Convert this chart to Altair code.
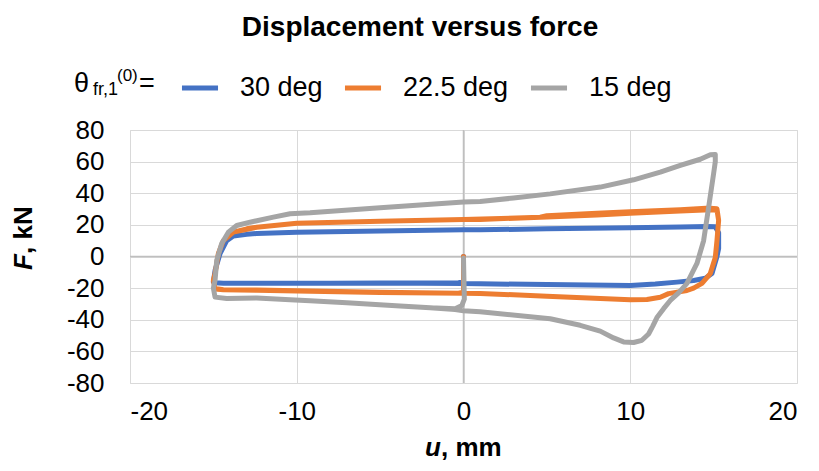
import altair as alt
import pandas as pd

# ---------------- data ----------------
series_names = ["30 deg", "22.5 deg", "15 deg"]
series_colors = ["#4472C4", "#ED7D31", "#A5A5A5"]
series_widths = [5, 5, 6]

blue_u = [0, 0, -0.3, -2, -5, -8, -10, -12.4, -14.4, -14.9, -15.0, -14.9, -14.6, -14.2,
          -13.8, -13.0, -12.4, -10, -5, 0, 1, 5, 10, 13, 14.6, 15.1, 15.3, 15.3, 15.2,
          14.9, 14.5, 13.8, 12.8, 11.5, 10, 5, 1, 0, -5, -10, -12.4, -14.4, -14.9, -15.0]
blue_f = [0, -15.5, -16.6, -16.8, -16.8, -16.9, -16.9, -16.9, -16.9, -16.6, -16.0, -8.9, 1.9, 10,
          13.0, 14.0, 14.6, 15.4, 16.2, 16.9, 16.9, 17.5, 18.2, 18.7, 19.0, 18.8, 15, 5, 0,
          -10.8, -13.8, -15.2, -16.2, -17.4, -18.3, -17.7, -17.3, -17.0, -16.8, -16.9, -16.9, -16.9, -16.6, -16.0]

orange_u = [0, 0, -0.3, -5, -10, -12.4, -14.4, -14.9, -15.0, -14.9, -14.7, -14.4, -13.8, -13.0,
            -12.4, -10, -5, 0, 1, 5, 8, 10, 13, 14.8, 15.2, 15.3, 15.2, 15.1, 14.8, 14.3, 13.8,
            13.4, 12.3, 11.8, 11, 10, 5, 1, 0, -5, -10, -12.4, -14.4, -14.9, -15.0, -14.9, -14.7,
            -14.4, -13.8, -12.4, -10, -5, 0, 4.6, 5, 8, 10, 13, 14.8, 15.2, 15.3, 15.2, 15.1,
            14.8, 14.3, 13.8, 13.4, 12.3, 11.8, 11, 10]
orange_f = [0, -22.5, -23.2, -22.6, -21.6, -21.2, -21.0, -20.3, -15, -10.8, 1.9, 10, 15.4, 17.5,
            18.5, 21, 22.3, 23.4, 23.4, 25.0, 26.3, 27.3, 28.7, 29.6, 29.3, 22.8, 10, -0.6, -10.8, -17, -20,
            -21.5, -23.5, -25.8, -27.2, -27.3, -25.1, -23.4, -23.3, -22.8, -21.8, -21.3, -21.1, -20.5, -15, -10.8, 1.9,
            10, 15.4, 18.5, 21, 22.3, 23.4, 24.8, 25.8, 27.4, 28.3, 29.6, 30.6, 30.2, 23, 10, -0.6,
            -10.8, -17, -20, -21.5, -23.5, -25.8, -27.2, -27.4]

gray_u = [0, 0.05, -0.1, -0.5, -2, -3.8, -7, -9.2, -10.4, -12.4, -14.2, -14.9, -15.0, -14.9,
          -14.8, -14.5, -14.1, -13.6, -12.8, -11.4, -10.4, -9.2, -5, 0, 1, 3, 5.2, 8.2, 10.2,
          11.8, 13, 14.2, 14.8, 15.1, 15.1, 15.0, 14.7, 14.4, 14.0, 13.4, 12.9, 12.4, 12.0, 11.6,
          11.35, 11.1, 10.7, 10.2, 9.6, 9.0, 8.2, 7, 5.2, 1, 0, -0.5, -2, -3.8, -7, -9.2, -10.4,
          -12.4, -14.2, -14.9, -15.0]
gray_f = [-1, -27, -31, -33.0, -32.4, -31.3, -29.3, -28.0, -27.4, -26.3, -26.5, -25.7, -20, -15.2,
          -2.5, 8.2, 15.4, 19.6, 21.7, 24.9, 27.0, 27.6, 30.8, 34.4, 34.8, 37, 39.6, 43.9, 48.5,
          53.4, 57.6, 61.5, 64.3, 64.5, 60, 52.5, 31, 10, -4.4, -17, -23, -27.8, -33, -38.6,
          -44, -49, -53.0, -54.4, -54.0, -51.5, -47.2, -43.5, -39.4, -35.0, -34.3, -33.5, -32.4, -31.3, -29.3, -28.0, -27.4,
          -26.3, -26.5, -25.7, -20]

x_ticks = [-20, -10, 0, 10, 20]
y_ticks = [-80, -60, -40, -20, 0, 20, 40, 60, 80]

chart_title = "Displacement versus force"

# ---------------- build table ----------------
rows = []
for name, us, fs in zip(series_names, [blue_u, orange_u, gray_u], [blue_f, orange_f, gray_f]):
    for i, (u, f) in enumerate(zip(us, fs)):
        rows.append({"u": u, "F": f, "series": name, "idx": i})
df = pd.DataFrame(rows)
zero_df = pd.DataFrame({"u": [0], "F": [0]})

FONT = "Liberation Sans"
W, H = 667, 253

xscale = alt.Scale(domain=[-20, 20], nice=False, zero=False)
yscale = alt.Scale(domain=[-80, 80], nice=False, zero=False)

x_axis = alt.Axis(values=x_ticks, grid=True, gridColor="#d9d9d9", gridWidth=1,
                  domain=False, ticks=False, tickSize=0, labelFontSize=26, labelOverlap=False,
                  labelFont=FONT, labelColor="#000000", labelPadding=15, title=None,
                  labelExpr="'' + datum.value")
y_axis = alt.Axis(values=y_ticks, grid=True, gridColor="#d9d9d9", gridWidth=1,
                  domain=False, ticks=False, tickSize=0, labelFontSize=26, labelOverlap=False,
                  labelFont=FONT, labelColor="#000000", labelPadding=26, title=None,
                  labelExpr="'' + datum.value")


def X():
    return alt.X("u:Q", scale=xscale, axis=x_axis)


def Y():
    return alt.Y("F:Q", scale=yscale, axis=y_axis)


zero_v = alt.Chart(zero_df).mark_rule(color="#bfbfbf", strokeWidth=1.5).encode(x=X())
zero_h = alt.Chart(zero_df).mark_rule(color="#bfbfbf", strokeWidth=1.5).encode(y=Y())

lines = alt.Chart(df).mark_line(strokeJoin="round", strokeCap="round").encode(
    x=X(),
    y=Y(),
    color=alt.Color("series:N",
                    scale=alt.Scale(domain=series_names, range=series_colors),
                    sort=series_names,
                    legend=alt.Legend(orient="none", legendX=49, legendY=-63, direction="horizontal",
                                      title=None, labelFontSize=27, labelFont=FONT, labelColor="#000000",
                                      symbolType="stroke", symbolSize=1300, symbolStrokeWidth=4,
                                      labelOffset=19, columnPadding=11, padding=0, gridAlign="none")),
    strokeWidth=alt.StrokeWidth("series:N",
                                scale=alt.Scale(domain=series_names, range=series_widths),
                                legend=None),
    order=alt.Order("idx:Q"),
    detail="series:N",
)


def label(text, x, y, size, weight="normal", style="normal", angle=0, align="left", baseline="alphabetic"):
    d = pd.DataFrame({"t": [text]})
    kw = dict(fontSize=size, font=FONT, fontWeight=weight, fontStyle=style, align=align,
              baseline=baseline, color="#000000")
    if angle:
        kw["angle"] = angle
    return alt.Chart(d).mark_text(**kw).encode(x=alt.value(x), y=alt.value(y), text="t:N")


texts = [
    label(chart_title, 290, -102, 28, weight="bold", align="center", baseline="middle"),
    label("θ", -56, -38, 27),
    label("fr,1", -37, -35, 18),
    label("(0)", -13, -49, 17),
    label("=", 9, -38, 27),
    label("F", -98, 140, 26, weight="bold", style="italic", angle=270),
    label(", kN", -98, 124, 26, weight="bold", angle=270),
    label("u", 295, 326, 26, weight="bold", style="italic"),
    label(", mm", 311, 326, 26, weight="bold"),
]

chart = alt.layer(zero_v, zero_h, lines, *texts).properties(
    width=W, height=H,
    autosize=alt.AutoSizeParams(type="none"),
    padding={"left": 122, "top": 122, "right": 14, "bottom": 80},
).configure_view(stroke=None).configure(background="white")

chart.save("out.html", embed_options={"renderer": "svg", "actions": False})
